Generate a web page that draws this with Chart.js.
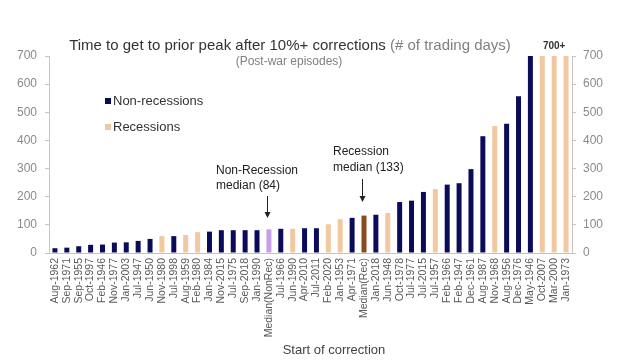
<!DOCTYPE html>
<html>
<head>
<meta charset="utf-8">
<script src="https://cdn.jsdelivr.net/npm/chart.js@4.4.0/dist/chart.umd.min.js"></script>
<style>
  html, body { margin: 0; padding: 0; background: #fff; }
  #wrap { width: 640px; height: 363px; position: relative; }
</style>
</head>
<body>
<div id="wrap"><canvas id="c" width="640" height="363"></canvas></div>
<script>
const categories = ["Aug-1962","Sep-1971","Sep-1955","Oct-1997","Feb-1946","Nov-1977","Jan-2003","Jul-1947","Jun-1950","Nov-1980","Jul-1998","Aug-1959","Feb-1980","Jan-1984","Nov-2015","Jul-1975","Sep-2018","Jan-1990","Median(NonRec)","Jul-1966","Jun-1990","Apr-2010","Jul-2011","Feb-2020","Jan-1953","Apr-1971","Median(Rec)","Jan-2018","Jun-1948","Oct-1978","Jul-1977","Jul-2015","Jul-1957","Feb-1966","Feb-1947","Dec-1961","Aug-1987","Nov-1968","Aug-1956","Dec-1976","May-1946","Oct-2007","Mar-2000","Jan-1973"];
const values = [17,19,24,29,30,37,38,43,50,60,60,64,74,76,81,81,81,81,84,86,86,88,88,102,120,125,133,136,142,181,186,217,227,243,248,298,415,451,459,557,700,700,700,700];
// N = non-recession, R = recession, MN = median non-recession, MR = median recession
const episodeType = ["N","N","N","N","N","N","N","N","N","R","N","R","R","N","N","N","N","N","MN","N","R","N","N","R","R","N","MR","N","R","N","N","N","R","N","N","N","N","R","N","N","N","R","R","R"];
const yTicks = [0,100,200,300,400,500,600,700];

const COLORS = { N: "#0b0b5c", R: "#f2c8a1", MN: "#c79fe6", MR: "#8a4a1d" };
const NAMES = { N: "Non-recessions", R: "Recessions", MN: "Median (non-recession)", MR: "Median (recession)" };

function seriesFor(t) { return values.map((v, i) => episodeType[i] === t ? v : null); }
const datasets = ["N","R","MN","MR"].map(t => ({
  label: NAMES[t],
  data: seriesFor(t),
  backgroundColor: COLORS[t],
  borderWidth: 0,
  grouped: false,
  categoryPercentage: 1.0,
  barPercentage: 0.42,
  yAxisID: "y"
}));

const FONT = "'Liberation Sans', Arial, Helvetica, sans-serif";

const decor = {
  id: "decor",
  afterDraw(chart) {
    const ctx = chart.ctx;
    const x = chart.scales.x, y = chart.scales.y;
    ctx.save();
    // Title
    ctx.textBaseline = "middle";
    ctx.font = "15px " + FONT;
    const t1 = "Time to get to prior peak after 10%+ corrections ";
    const t2 = "(# of trading days)";
    const w1 = ctx.measureText(t1).width, w2 = ctx.measureText(t2).width;
    const tx = 290 - (w1 + w2) / 2;
    ctx.textAlign = "left";
    ctx.fillStyle = "#333";
    ctx.fillText(t1, tx, 46);
    ctx.fillStyle = "#808080";
    ctx.fillText(t2, tx + w1, 46);
    ctx.font = "12px " + FONT;
    ctx.textAlign = "center";
    ctx.fillStyle = "#808080";
    ctx.fillText("(Post-war episodes)", 289, 62);
    // 700+ label over the capped bars
    ctx.font = "bold 10px " + FONT;
    ctx.fillStyle = "#333";
    const cx = (x.getPixelForValue(41) + x.getPixelForValue(43)) / 2;
    ctx.fillText("700+", cx, 46);
    // Legend
    ctx.textAlign = "left";
    ctx.font = "13px " + FONT;
    ctx.fillStyle = COLORS.N; ctx.fillRect(105, 98, 6, 6);
    ctx.fillStyle = "#333"; ctx.fillText("Non-recessions", 113, 101);
    ctx.fillStyle = COLORS.R; ctx.fillRect(105, 124, 6, 6);
    ctx.fillStyle = "#333"; ctx.fillText("Recessions", 113, 127);
    // Annotations
    ctx.font = "12px " + FONT;
    ctx.fillStyle = "#222";
    ctx.fillText("Non-Recession", 216, 171);
    ctx.fillText("median (84)", 216, 186);
    ctx.fillText("Recession", 333, 152);
    ctx.fillText("median (133)", 333, 168);
    function arrow(ax, y0, y1) {
      ctx.strokeStyle = "#222"; ctx.lineWidth = 1;
      ctx.beginPath(); ctx.moveTo(ax, y0); ctx.lineTo(ax, y1 - 1); ctx.stroke();
      ctx.fillStyle = "#222";
      ctx.beginPath(); ctx.moveTo(ax, y1); ctx.lineTo(ax - 3, y1 - 6); ctx.lineTo(ax + 3, y1 - 6); ctx.closePath(); ctx.fill();
    }
    arrow(Math.round(x.getPixelForValue(18)) - 1.5, 196, 218);
    arrow(Math.round(x.getPixelForValue(26)) - 1.5, 179, 202);
    // X title
    ctx.textAlign = "center";
    ctx.font = "13px " + FONT;
    ctx.fillStyle = "#444";
    ctx.fillText("Start of correction", 334, 350);
    ctx.restore();
  }
};

const yCommon = {
  min: 0, max: 700,
  afterBuildTicks(s) { s.ticks = yTicks.map(v => ({ value: v })); },
  grid: { drawOnChartArea: false, drawTicks: true, tickLength: 4, color: "#c4c4c4" },
  border: { display: true, color: "#c4c4c4", width: 1 },
  ticks: { font: { family: FONT, size: 12 }, color: "#8a8a8a" }
};

new Chart(document.getElementById("c"), {
  type: "bar",
  data: { labels: categories, datasets },
  options: {
    responsive: false,
    animation: false,
    events: [],
    layout: { padding: { top: 56, left: 0, right: 0, bottom: 0 } },
    plugins: { legend: { display: false }, title: { display: false }, tooltip: { enabled: false } },
    scales: {
      x: {
        offset: true,
        grid: { display: false, drawTicks: false },
        border: { display: true, color: "#c4c4c4", width: 1 },
        ticks: { autoSkip: false, maxRotation: 90, minRotation: 90, padding: 5, font: { family: FONT, size: 10.5 }, color: "#5a5a5a" },
        afterFit(s) { s.height = 110; }
      },
      y: Object.assign({}, yCommon, {
        position: "left",
        ticks: Object.assign({}, yCommon.ticks, { padding: 8 }),
        afterFit(s) { s.width = 49; }
      }),
      y2: Object.assign({}, yCommon, {
        position: "right",
        ticks: Object.assign({}, yCommon.ticks, { padding: 7 }),
        afterFit(s) { s.width = 68; }
      })
    }
  },
  plugins: [decor]
});
</script>
</body>
</html>
